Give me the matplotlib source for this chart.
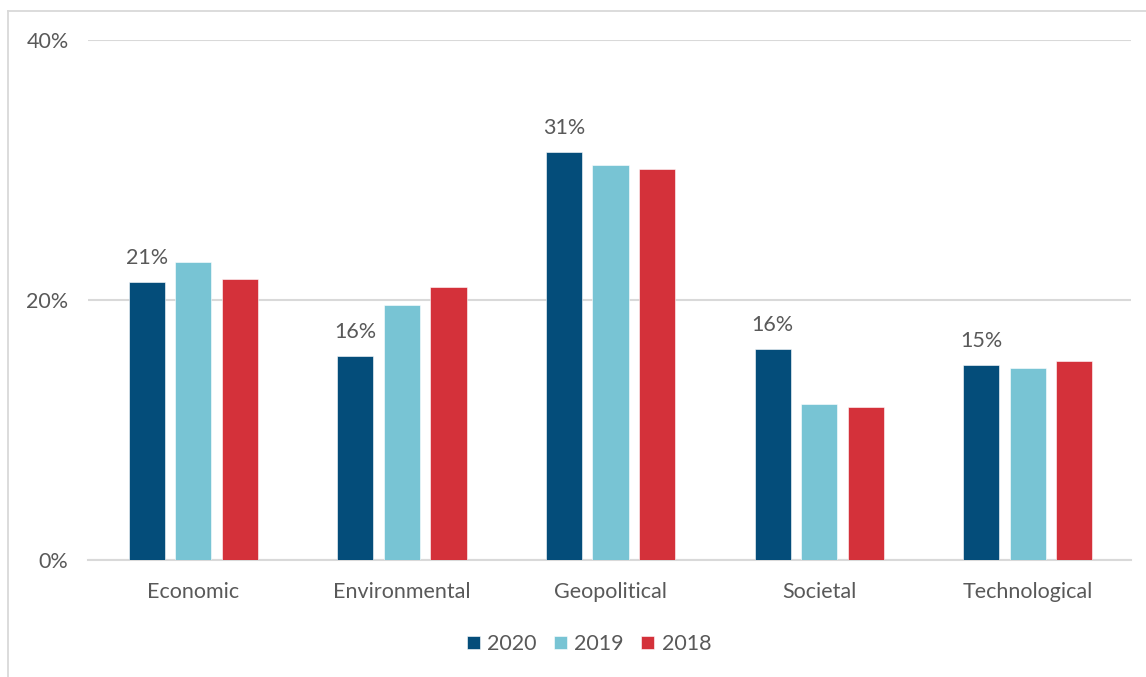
import matplotlib.pyplot as plt
import numpy as np
from matplotlib.ticker import FuncFormatter

# Data
categories = ['Economic', 'Environmental', 'Geopolitical', 'Societal', 'Technological']
years = ['2020', '2019', '2018']
vals_2020 = [0.214, 0.157, 0.314, 0.162, 0.150]
vals_2019 = [0.229, 0.196, 0.304, 0.120, 0.148]
vals_2018 = [0.216, 0.210, 0.301, 0.118, 0.153]
colors = ['#044D7A', '#78C4D4', '#D4313A']

plt.rcParams['font.family'] = ['Lato', 'DejaVu Sans']
text_col = '#595959'
grid_col = '#D9D9D9'
fs = 15.5

fig = plt.figure(figsize=(11.46, 6.77), dpi=100)
ax = fig.add_axes([88 / 1146, 1 - 560 / 677, (1131 - 88) / 1146, 520 / 677])

x = np.arange(len(categories))
width = 0.173
step = 0.223
series = [vals_2020, vals_2019, vals_2018]
bars = []
for i, (vals, col, yr) in enumerate(zip(series, colors, years)):
    b = ax.bar(x + (i - 1) * step, vals, width, color=col, label=yr,
               edgecolor='white', linewidth=0.4, zorder=3)
    bars.append(b)

# value labels on the 2020 bars only
for rect, v in zip(bars[0], vals_2020):
    ax.text(rect.get_x() + rect.get_width() / 2, v + 0.011, f'{v * 100:.0f}%',
            ha='center', va='bottom', fontsize=fs, color=text_col)

ax.set_ylim(0, 0.40)
ax.set_xlim(-0.505, 4.495)
ax.set_yticks([0, 0.2, 0.4])
ax.yaxis.set_major_formatter(FuncFormatter(lambda v, p: f'{v * 100:.0f}%'))
ax.set_xticks(x)
ax.set_xticklabels(categories)
ax.tick_params(axis='both', length=0, labelsize=fs, labelcolor=text_col)
ax.tick_params(axis='y', pad=14)
ax.tick_params(axis='x', pad=16)
ax.grid(axis='y', color=grid_col, linewidth=1.5, zorder=0)
for s in ['top', 'right', 'left']:
    ax.spines[s].set_visible(False)
ax.spines['bottom'].set_color(grid_col)
ax.spines['bottom'].set_linewidth(1.5)

leg = fig.legend(loc='center', bbox_to_anchor=(0.514, 1 - 644 / 677), ncol=3,
                 frameon=False, fontsize=fs, handlelength=0.6, handleheight=0.6,
                 handletextpad=0.35, columnspacing=0.8)
for t in leg.get_texts():
    t.set_color(text_col)

# chart area border (partly cut off at right/bottom in the reference)
fig.add_artist(plt.Line2D([8 / 1146, 8 / 1146], [0, 1 - 10.5 / 677],
                          transform=fig.transFigure, color=grid_col, lw=1.3))
fig.add_artist(plt.Line2D([8 / 1146, 1], [1 - 10.5 / 677, 1 - 10.5 / 677],
                          transform=fig.transFigure, color=grid_col, lw=1.3))

fig.savefig('out.png', dpi=100)
plt.close()
